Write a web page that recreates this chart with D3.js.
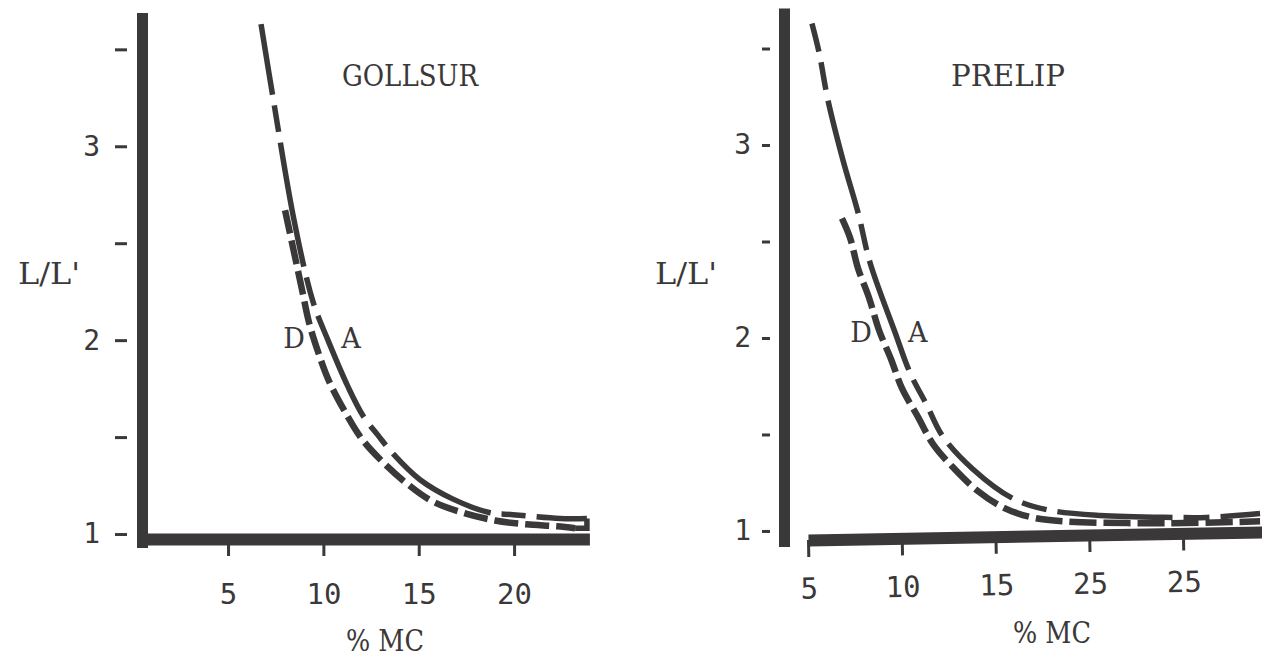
<!DOCTYPE html>
<html>
<head>
<meta charset="utf-8">
<script src="https://cdn.jsdelivr.net/npm/d3@7"></script>
<style>
  html, body { margin: 0; padding: 0; background: #fff; }
  svg { display: block; }
</style>
</head>
<body>
<div id="chart"></div>
<script>
// L/L' against % moisture content, two tobacco varieties
var yTicks = [1, 1.5, 2, 2.5, 3, 3.5];
var yTickLabels = ['1', '', '2', '', '3', ''];

var gollsurXTicks = [5, 10, 15, 20];
var gollsurXLabels = ['5', '10', '15', '20'];
// A = adsorption (upper curve), D = desorption
var gollsurMcA = [6.73, 7.36, 8.46, 9.45, 10.24, 11.29, 12.08, 12.86, 13.60, 15.07, 16.80, 18.74, 19.94, 22.41, 23.82];
var gollsurLA  = [3.63, 3.25, 2.62, 2.20, 2.00, 1.76, 1.61, 1.51, 1.42, 1.28, 1.18, 1.11, 1.10, 1.08, 1.08];
var gollsurMcD = [7.99, 8.88, 9.25, 9.72, 10.29, 11.08, 12.02, 13.13, 14.38, 15.69, 17.32, 19.00, 20.63, 22.25, 23.20];
var gollsurLD  = [2.67, 2.26, 2.09, 1.94, 1.79, 1.64, 1.49, 1.37, 1.26, 1.17, 1.11, 1.07, 1.05, 1.04, 1.03];

var prelipXTicks = [5, 10, 15, 20, 25];
var prelipXLabels = ['5', '10', '15', '25', '25'];
var prelipMcA = [5.21, 5.59, 6.07, 6.87, 7.67, 8.31, 9.64, 10.44, 11.35, 12.19, 13.80, 15.89, 17.75, 20.57, 24.47, 26.28, 29.11];
var prelipLA  = [3.63, 3.48, 3.23, 2.92, 2.65, 2.39, 2.03, 1.82, 1.65, 1.49, 1.32, 1.17, 1.11, 1.08, 1.07, 1.07, 1.09];
var prelipMcD = [6.81, 7.24, 7.67, 8.25, 8.79, 9.43, 10.01, 10.87, 11.67, 12.73, 14.02, 15.45, 16.95, 18.64, 24.13, 29.11];
var prelipLD  = [2.62, 2.52, 2.36, 2.21, 2.04, 1.89, 1.74, 1.59, 1.45, 1.33, 1.21, 1.12, 1.07, 1.05, 1.04, 1.05];

var width = 1262,
    height = 658,
    ink = '#3a3838',
    serif = '"DejaVu Serif", "Liberation Serif", serif',
    mono = '"DejaVu Sans Mono", "Liberation Mono", monospace';

var svg = d3.select('#chart').append('svg')
    .attr('width', width)
    .attr('height', height);

svg.append('rect')
    .attr('width', width)
    .attr('height', height)
    .attr('fill', '#fff');

var panels = [
    {
        title: 'GOLLSUR', titleX: 410, titleLen: 136,
        mcA: gollsurMcA, lA: gollsurLA, mcD: gollsurMcD, lD: gollsurLD,
        xTicks: gollsurXTicks, xLabels: gollsurXLabels,
        xDomain: [0.2, 23.95], xRange: [136.5, 589.4],
        yDomain: [0.93, 3.69], yRange: [547.6, 12.5],
        yAxisX: 142, xAxisY: 539, xTilt: 0, xPad: 27,
        yTickIn: 15, yTickOut: 27, yPad: 15,
        ylabX: 49, mcX: 385, mcY: 640,
        dLabel: [8.46, 2.01], aLabel: [11.45, 2.01],
        // breaks in the typed A line, by % MC
        gapsA: [7.38, 7.70, 9.04, 9.61, 12.29, 13.46, 19.05, 20.89],
        dashD: '24 7', closeEnd: true
    },
    {
        title: 'PRELIP', titleX: 1008, titleLen: 114,
        mcA: prelipMcA, lA: prelipLA, mcD: prelipMcD, lD: prelipLD,
        xTicks: prelipXTicks, xLabels: prelipXLabels,
        xDomain: [5, 29.3], xRange: [808, 1263.6],
        yDomain: [0.92, 3.71], yRange: [546.4, 8],
        yAxisX: 784, xAxisY: 540, xTilt: -1, xPad: 21,
        yTickIn: 14, yTickOut: 22, yPad: 11,
        ylabX: 686, mcX: 1052, mcY: 632,
        dLabel: [7.83, 2.03], aLabel: [10.86, 2.03],
        gapsA: [5.64, 6.01, 7.75, 8.20, 10.49, 11.37, 12.31, 16.15, 18.01, 24.73, 26.71],
        dashD: '27 7', closeEnd: false
    }
];

panels.forEach(drawPanel);

// dasharray that puts a gap where the path crosses each given x
function gapDashes(node, xs, gap) {
    var total = node.getTotalLength();
    var cuts = xs.map(function (px) {
        var lo = 0, hi = total;
        for (var k = 0; k < 40; k++) {
            var mid = (lo + hi) / 2;
            if (node.getPointAtLength(mid).x < px) lo = mid; else hi = mid;
        }
        return lo;
    });
    var out = [], pos = 0;
    cuts.forEach(function (c) {
        out.push(Math.max(1, c - gap / 2 - pos), gap);
        pos = c + gap / 2;
    });
    out.push(total - pos + 20, 0);
    return out.join(' ');
}

function drawPanel(p) {
    var x = d3.scaleLinear().domain(p.xDomain).range(p.xRange);
    var y = d3.scaleLinear().domain(p.yDomain).range(p.yRange);

    var g = svg.append('g');

    // x axis: thick bar with short ticks hanging under it
    var xAxis = g.append('g')
        .attr('transform', 'rotate(' + p.xTilt + ' ' + p.xRange[0] + ' ' + p.xAxisY + ') translate(0,' + p.xAxisY + ')')
        .call(d3.axisBottom(x)
            .tickValues(p.xTicks)
            .tickFormat(function (d, i) { return p.xLabels[i]; })
            .tickSize(17)
            .tickSizeOuter(0)
            .tickPadding(p.xPad));
    xAxis.attr('font-family', null).attr('font-size', null);
    xAxis.select('.domain').attr('stroke', ink).attr('stroke-width', 12);
    xAxis.selectAll('.tick line').attr('stroke', ink).attr('stroke-width', 3);
    xAxis.selectAll('.tick text')
        .attr('fill', ink)
        .style('font-family', mono)
        .style('font-size', '29px');

    // y axis: thick bar, ticks detached to the left
    var yAxis = g.append('g')
        .attr('transform', 'translate(' + p.yAxisX + ',0)')
        .call(d3.axisLeft(y)
            .tickValues(yTicks)
            .tickFormat(function (d, i) { return yTickLabels[i]; })
            .tickSize(p.yTickOut)
            .tickSizeOuter(0)
            .tickPadding(p.yPad));
    yAxis.attr('font-family', null).attr('font-size', null);
    yAxis.select('.domain').attr('stroke', ink).attr('stroke-width', 11);
    yAxis.selectAll('.tick line')
        .attr('x1', -p.yTickIn)
        .attr('stroke', ink)
        .attr('stroke-width', 3);
    yAxis.selectAll('.tick text')
        .attr('fill', ink)
        .style('font-family', mono)
        .style('font-size', '28px');

    var line = d3.line()
        .x(function (d) { return x(d[0]); })
        .y(function (d) { return y(d[1]); })
        .curve(d3.curveCatmullRom.alpha(0.5));

    var ptsA = d3.zip(p.mcA, p.lA),
        ptsD = d3.zip(p.mcD, p.lD);

    g.append('path')
        .datum(ptsD)
        .attr('d', line)
        .attr('fill', 'none')
        .attr('stroke', ink)
        .attr('stroke-width', 6.5)
        .attr('stroke-dasharray', p.dashD);

    var pathA = g.append('path')
        .datum(ptsA)
        .attr('d', line)
        .attr('fill', 'none')
        .attr('stroke', ink)
        .attr('stroke-width', 5.5);
    pathA.attr('stroke-dasharray', gapDashes(pathA.node(), p.gapsA.map(x), 11));

    if (p.closeEnd) {
        var a = ptsA[ptsA.length - 1], dd = ptsD[ptsD.length - 1];
        g.append('path')
            .attr('d', d3.line()([[x(a[0]), y(a[1])], [x(a[0]), y(dd[1])], [x(dd[0]), y(dd[1])]]))
            .attr('fill', 'none')
            .attr('stroke', ink)
            .attr('stroke-width', 5.5);
    }

    // typed labels
    g.append('text')
        .attr('x', p.titleX)
        .attr('y', 75)
        .attr('dy', '0.36em')
        .attr('text-anchor', 'middle')
        .attr('textLength', p.titleLen)
        .attr('lengthAdjust', 'spacingAndGlyphs')
        .style('font-family', serif)
        .style('font-size', '30px')
        .attr('fill', ink)
        .text(p.title);

    g.append('text')
        .attr('x', p.ylabX)
        .attr('y', 273)
        .attr('dy', '0.36em')
        .attr('text-anchor', 'middle')
        .attr('textLength', 62)
        .attr('lengthAdjust', 'spacingAndGlyphs')
        .style('font-family', serif)
        .style('font-size', '30px')
        .attr('fill', ink)
        .text("L/L'");

    g.append('text')
        .attr('x', p.mcX)
        .attr('y', p.mcY)
        .attr('dy', '0.36em')
        .attr('text-anchor', 'middle')
        .attr('textLength', 78)
        .attr('lengthAdjust', 'spacingAndGlyphs')
        .style('font-family', serif)
        .style('font-size', '30px')
        .attr('fill', ink)
        .text('% MC');

    [['D', p.dLabel], ['A', p.aLabel]].forEach(function (l) {
        g.append('text')
            .attr('x', x(l[1][0]))
            .attr('y', y(l[1][1]))
            .attr('dy', '0.36em')
            .attr('text-anchor', 'middle')
            .style('font-family', serif)
            .style('font-size', '27px')
            .attr('fill', ink)
            .text(l[0]);
    });
}
</script>
</body>
</html>
